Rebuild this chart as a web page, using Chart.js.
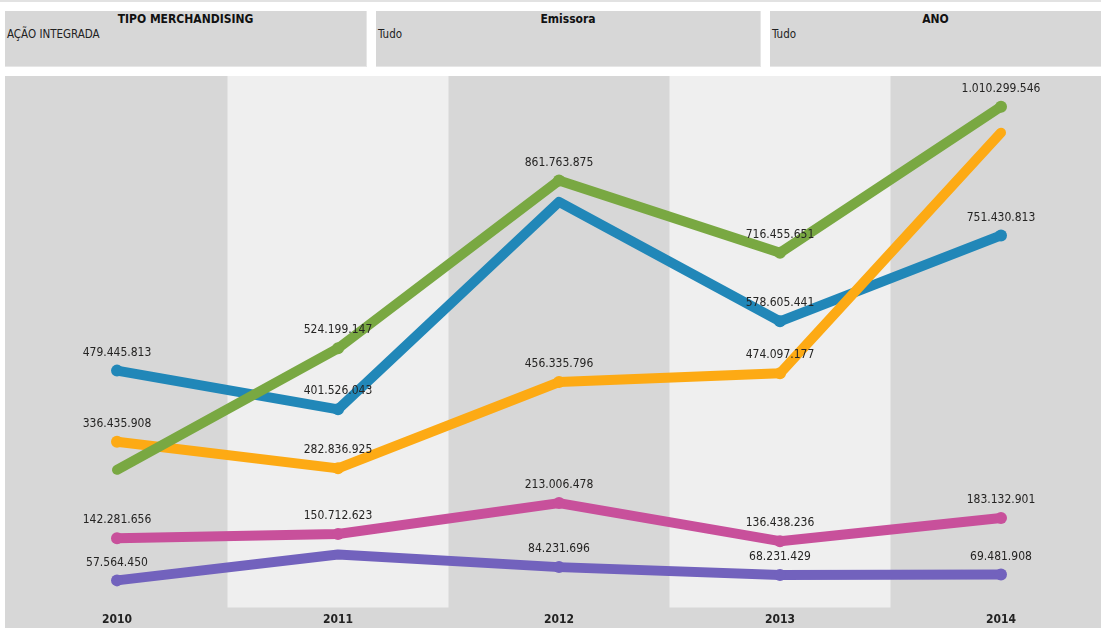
<!DOCTYPE html>
<html lang="pt-BR">
<head>
<meta charset="utf-8">
<title>Merchandising por ano</title>
<script src="https://cdn.jsdelivr.net/npm/chart.js@4"></script>
<style>
  html, body { margin: 0; padding: 0; background: #fff; }
  body {
    width: 1101px; height: 628px; position: relative; overflow: hidden;
    font-family: 'DejaVu Sans Condensed', 'Liberation Sans', sans-serif; color: #222;
  }
  .topbar { position: absolute; left: 0; top: 0; width: 1101px; height: 2px; background: #e2e2e2; }
  .filter {
    position: absolute; top: 11px; height: 55px; background: #d7d7d7;
    border-right: 1px solid #e6e6e6; border-bottom: 1px solid #e6e6e6;
  }
  .filter h4 { margin: 0; font-size: 12px; font-weight: bold; text-align: center; line-height: 16px; color: #111; }
  .filter div { font-size: 11.5px; line-height: 14px; padding-left: 2px; color: #222; }
  #wrap { position: absolute; left: 5px; top: 76px; width: 1096px; height: 552px; background: #d7d7d7; }
</style>
</head>
<body>
<div class="topbar"></div>
<div class="filter" style="left:5px;width:361px"><h4>TIPO MERCHANDISING</h4><div>AÇÃO INTEGRADA</div></div>
<div class="filter" style="left:376px;width:384px"><h4>Emissora</h4><div>Tudo</div></div>
<div class="filter" style="left:770px;width:331px"><h4>ANO</h4><div>Tudo</div></div>
<div id="wrap"><canvas id="chart"></canvas></div>

<script>
const years = [2010, 2011, 2012, 2013, 2014];

// values per series (R$)
const verde   = [280000000, 524199147, 861763875, 716455651, 1010299546];
const azul    = [479445813, 401526043, 819000000, 578605441, 751430813];
const laranja = [336435908, 282836925, 456335796, 474097177, 958000000];
const rosa    = [142281656, 150712623, 213006478, 136438236, 183132901];
const roxo    = [57564450, 109500000, 84231696, 68231429, 69481908];

// which points carry a value label (and a marker)
const verdeLabels   = [false, true, true, true, true];
const azulLabels    = [true, true, false, true, true];
const laranjaLabels = [true, true, true, true, false];
const rosaLabels    = [true, true, true, true, true];
const roxoLabels    = [true, false, true, true, true];

const FONT = "'DejaVu Sans Condensed', 'Liberation Sans', sans-serif";

const fmt = v => Math.round(v).toString().replace(/\B(?=(\d{3})+(?!\d))/g, '.');

function series(values, labels, color) {
  return {
    data: values.map((v, i) => ({ x: years[i], y: v })),
    labels: labels,
    borderColor: color,
    backgroundColor: color,
    borderWidth: 10,
    borderCapStyle: 'round',
    borderJoinStyle: 'round',
    pointRadius: labels.map(s => (s ? 6 : 0)),
    pointBorderWidth: 0,
    pointHoverRadius: 0,
    tension: 0
  };
}

// alternating column bands behind the lines
const bandPlugin = {
  id: 'bands',
  beforeDatasetsDraw(chart) {
    const { ctx, chartArea, scales: { x } } = chart;
    ctx.save();
    ctx.fillStyle = '#efefef';
    years.forEach((yr, i) => {
      if (i % 2 === 0) return;
      const l = x.getPixelForValue(yr - 0.5);
      const r = x.getPixelForValue(yr + 0.5);
      ctx.fillRect(l, chartArea.top, r - l, chartArea.bottom - chartArea.top - 1.5);
    });
    ctx.restore();
  }
};

// value labels above the marked points
const labelPlugin = {
  id: 'valueLabels',
  afterDatasetsDraw(chart) {
    const { ctx } = chart;
    ctx.save();
    ctx.font = '12px ' + FONT;
    ctx.fillStyle = '#252423';
    ctx.textAlign = 'center';
    ctx.textBaseline = 'middle';
    chart.data.datasets.forEach((ds, di) => {
      const meta = chart.getDatasetMeta(di);
      meta.data.forEach((pt, i) => {
        if (!ds.labels[i]) return;
        ctx.fillText(fmt(ds.data[i].y), pt.x, pt.y - 18);
      });
    });
    ctx.restore();
  }
};

new Chart(document.getElementById('chart'), {
  type: 'line',
  data: {
    datasets: [
      series(verde, verdeLabels, '#79a842'),
      series(laranja, laranjaLabels, '#fdaa14'),
      series(azul, azulLabels, '#2187b8'),
      series(rosa, rosaLabels, '#c8509b'),
      series(roxo, roxoLabels, '#7262bd')
    ]
  },
  options: {
    responsive: true,
    maintainAspectRatio: false,
    animation: false,
    layout: { padding: 0, autoPadding: false },
    plugins: {
      legend: { display: false },
      tooltip: { enabled: false }
    },
    events: [],
    scales: {
      x: {
        type: 'linear',
        min: 2009.4932,
        max: 2014.4525,
        grid: { display: false, drawTicks: false },
        border: { display: false },
        afterBuildTicks: s => { s.ticks = years.map(v => ({ value: v })); },
        afterFit: s => { s.height = 19; },
        ticks: {
          padding: 4,
          color: '#222',
          autoSkip: false,
          maxRotation: 0,
          font: { family: FONT, size: 12, weight: 'bold' },
          callback: v => String(v)
        }
      },
      y: {
        display: false,
        min: 0,
        max: 1072000000
      }
    }
  },
  plugins: [bandPlugin, labelPlugin]
});
</script>
</body>
</html>
